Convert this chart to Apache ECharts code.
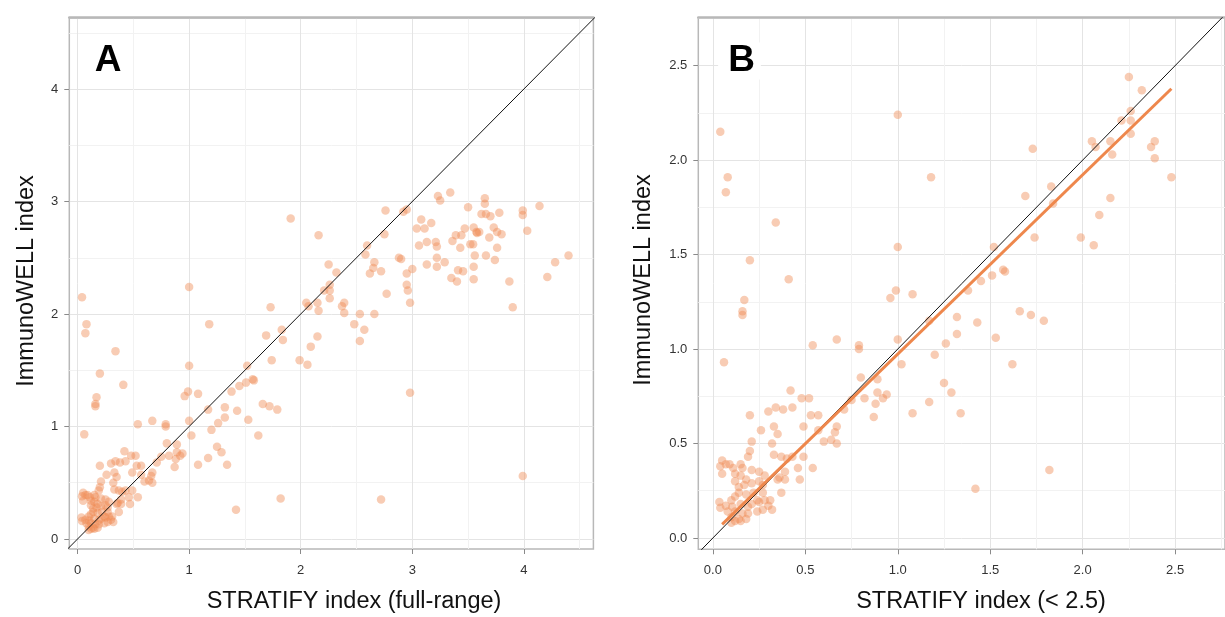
<!DOCTYPE html>
<html>
<head>
<meta charset="utf-8">
<script src="https://cdn.jsdelivr.net/npm/echarts@6/dist/echarts.min.js"></script>
<style>
html,body{margin:0;padding:0;background:#ffffff;}
#chart{width:1225px;height:617px;}
</style>
</head>
<body>
<div id="chart"></div>
<script>
// STRATIFY index (x) and ImmunoWELL index (y) for each sample
const stratify = [
  0.04,1.00,0.08,0.07,1.18,0.34,1.00,0.20,0.41,0.17,0.16,0.16,0.99,0.96,1.08,0.06,0.54,0.67,0.79,0.79,
  1.00,1.02,1.17,1.32,1.43,1.32,1.26,1.20,1.45,1.38,1.51,1.52,1.25,1.29,0.89,0.80,0.89,0.94,0.92,0.82,
  0.42,0.48,0.52,1.17,1.57,1.58,1.66,1.53,1.62,0.88,0.87,1.08,1.34,2.25,2.32,2.26,2.21,2.26,2.26,2.05,
  2.07,2.15,2.16,2.39,2.37,2.39,2.48,1.73,1.83,1.69,1.84,2.15,2.09,1.74,1.99,2.06,1.72,1.79,1.82,1.42,
  0.75,0.71,0.38,0.43,0.53,0.57,0.67,0.66,0.67,0.60,0.64,0.49,0.57,0.35,0.37,0.40,0.43,0.49,0.46,0.54,
  0.39,0.47,0.36,0.39,0.37,0.20,0.30,0.34,0.26,0.33,0.21,0.32,0.20,0.19,0.33,0.05,0.07,0.05,0.04,0.11,
  0.15,0.16,0.21,0.12,0.15,0.18,0.25,0.28,0.35,0.12,0.14,0.17,0.21,0.25,0.27,0.14,0.12,0.18,0.22,0.27,
  0.24,0.035,0.07,0.10,0.105,0.15,0.19,0.21,0.25,0.28,0.31,0.30,0.32,0.27,0.04,0.08,0.12,0.16,0.19,0.24,
  0.10,0.14,0.18,0.12,0.15,0.10,0.09,
  1.91,2.16,3.23,3.25,3.34,3.65,3.65,3.50,4.14,3.99,3.99,3.62,3.66,3.70,3.78,2.76,2.92,2.95,3.08,3.17,
  3.04,3.11,2.75,3.47,3.55,3.575,3.60,3.58,3.73,3.76,3.80,4.03,3.39,3.44,3.36,3.69,3.52,3.545,3.06,3.13,
  3.21,3.22,3.43,3.76,2.58,2.595,2.88,2.90,3.22,3.29,3.56,3.66,3.74,4.40,4.28,2.66,2.65,2.62,2.72,3.13,
  3.22,3.55,3.41,3.455,3.00,2.95,3.55,3.35,3.40,3.87,4.21,2.95,2.96,2.77,2.98,3.90,2.53,2.66,2.57,2.53,
  2.98,2.72,3.99
];
const immunowell = [
  2.15,2.24,1.91,1.83,1.91,1.67,1.54,1.47,1.37,1.26,1.20,1.18,1.31,1.27,1.29,0.93,1.02,1.05,1.02,1.00,
  1.05,0.92,1.15,1.17,1.14,1.08,1.03,0.97,1.36,1.31,1.39,1.54,0.82,0.77,0.84,0.85,0.77,0.76,0.74,0.74,
  0.78,0.74,0.74,0.72,1.42,1.41,1.20,1.06,0.92,0.71,0.64,0.66,0.66,2.44,2.37,2.26,2.21,2.21,2.14,2.10,
  2.07,2.10,2.03,2.10,2.07,2.01,1.91,2.06,1.86,1.81,1.77,1.80,1.71,1.59,1.59,1.55,1.18,1.15,0.36,0.26,
  0.73,0.68,0.68,0.69,0.65,0.65,0.59,0.56,0.50,0.51,0.52,0.59,0.57,0.55,0.43,0.42,0.43,0.43,0.37,0.37,
  0.35,0.31,0.32,0.31,0.24,0.65,0.67,0.69,0.57,0.59,0.51,0.50,0.46,0.43,0.44,0.41,0.39,0.34,0.38,0.37,
  0.39,0.37,0.36,0.34,0.33,0.31,0.35,0.33,0.31,0.30,0.27,0.28,0.29,0.30,0.28,0.24,0.22,0.23,0.24,0.24,
  0.20,0.19,0.17,0.20,0.165,0.18,0.165,0.18,0.19,0.20,0.20,0.17,0.15,0.15,0.16,0.14,0.14,0.13,0.13,0.14,
  0.11,0.10,0.10,0.09,0.09,0.08,0.39,
  2.85,2.70,3.05,3.01,3.08,3.03,2.98,2.95,2.96,2.92,2.88,2.89,2.89,2.87,2.90,2.92,2.91,2.93,2.84,2.81,
  2.76,2.76,2.71,2.76,2.77,2.73,2.73,2.72,2.77,2.73,2.71,2.74,2.70,2.70,2.65,2.68,2.62,2.62,2.61,2.64,
  2.64,2.60,2.59,2.59,2.53,2.61,2.50,2.49,2.50,2.46,2.52,2.52,2.48,2.52,2.46,2.46,2.41,2.36,2.38,2.44,
  2.42,2.42,2.39,2.38,2.40,2.36,2.31,2.32,2.29,2.29,2.33,2.26,2.21,2.18,2.10,2.06,2.00,2.00,1.86,1.76,
  1.30,0.35,0.56
];
// fitted regression line of panel B (end points)
const fitLine = [[0.05, 0.072], [2.48, 2.378]];
// identity (y = x) reference line ends
const identityEnds = [-1, 5];
// panel B shows samples below this value
const subsetLimit = 2.5;

// axis ticks
const ticksA = [0, 1, 2, 3, 4];
const minorA = [0.5, 1.5, 2.5, 3.5, 4.5];
const ticksB = [0, 0.5, 1, 1.5, 2, 2.5];
const minorB = [0.25, 0.75, 1.25, 1.75, 2.25, 2.75];
const xRangeA = [-0.074, 4.623];
const yRangeA = [-0.089, 4.634];
const xRangeB = [-0.079, 2.77];
const yRangeB = [-0.060, 2.754];

const FONT = '"Liberation Sans", Arial, Helvetica, sans-serif';
const pointsA = stratify.map((x, i) => [x, immunowell[i]]);
const pointsB = pointsA.filter(p => p[0] < subsetLimit && p[1] < subsetLimit);
const identity = identityEnds.map(v => [v, v]);

function mainAxis(gridIndex, range, ticks, fmt, pos, margin) {
  return {
    type: 'value', gridIndex, min: range[0], max: range[1], position: pos,
    axisLine: { show: false, onZero: false },
    axisTick: { show: true, customValues: ticks, length: 5, lineStyle: { color: '#8a8a8a', width: 1 } },
    axisLabel: { customValues: ticks, formatter: fmt, margin: margin, color: '#333', fontSize: 13, fontFamily: FONT },
    splitLine: { show: true, lineStyle: { color: '#e4e4e4', width: 1 } }
  };
}
function minorAxis(gridIndex, range, minor, pos, lineShow) {
  return {
    type: 'value', gridIndex, min: range[0], max: range[1], position: pos,
    axisLine: { show: lineShow, onZero: false, lineStyle: { color: '#b8b8b8', width: 2.5 } },
    axisTick: { show: false, customValues: minor },
    axisLabel: { show: false, customValues: minor },
    splitLine: { show: true, lineStyle: { color: '#f2f2f2', width: 1 } }
  };
}
const fmtA = v => String(Math.round(v));
const fmtB = v => v.toFixed(1);
const pointColor = 'rgba(240,140,85,0.55)';

const chart = echarts.init(document.getElementById('chart'), null, { renderer: 'canvas' });
chart.setOption({
  animation: false,
  backgroundColor: '#ffffff',
  grid: [
    { left: 69.3, top: 17.7, width: 524.1, height: 531.3, show: true, borderColor: '#b8b8b8', borderWidth: 1.5 },
    { left: 698.3, top: 17.7, width: 541, height: 531.6, show: true, borderColor: '#b8b8b8', borderWidth: 1.5 }
  ],
  xAxis: [
    mainAxis(0, xRangeA, ticksA, fmtA, 'bottom', 15),
    minorAxis(0, xRangeA, minorA, 'top', true),
    mainAxis(1, xRangeB, ticksB, fmtB, 'bottom', 15),
    minorAxis(1, xRangeB, minorB, 'top', true)
  ],
  yAxis: [
    mainAxis(0, yRangeA, ticksA, fmtA, 'left', 11),
    minorAxis(0, yRangeA, minorA, 'right', false),
    mainAxis(1, yRangeB, ticksB, fmtB, 'left', 11),
    minorAxis(1, yRangeB, minorB, 'right', false)
  ],
  series: [
    { type: 'scatter', xAxisIndex: 0, yAxisIndex: 0, data: pointsA, symbolSize: 8.5, silent: true,
      itemStyle: { color: pointColor }, z: 2 },
    { type: 'line', xAxisIndex: 0, yAxisIndex: 0, data: identity, symbol: 'none', silent: true,
      lineStyle: { color: '#111', width: 1 }, z: 3 },
    { type: 'scatter', xAxisIndex: 2, yAxisIndex: 2, data: pointsB, symbolSize: 8.5, silent: true,
      itemStyle: { color: pointColor }, z: 2 },
    { type: 'line', xAxisIndex: 2, yAxisIndex: 2, data: identity, symbol: 'none', silent: true,
      lineStyle: { color: '#111', width: 1 }, z: 3 },
    { type: 'line', xAxisIndex: 2, yAxisIndex: 2, data: fitLine, symbol: 'none', silent: true,
      lineStyle: { color: '#ee874c', width: 3 }, z: 4 }
  ],
  graphic: [
    { type: 'text', x: 108, y: 61, style: { text: 'A', font: '900 37px ' + FONT, fill: '#000', align: 'center', verticalAlign: 'middle' }, z: 10 },
    { type: 'text', x: 739.5, y: 61, style: { text: 'B', font: '900 37px ' + FONT, fill: '#000', align: 'center', verticalAlign: 'middle',
      backgroundColor: '#ffffff', padding: [0, 6, 0, 10] }, z: 10 },
    { type: 'text', x: 354, y: 602, style: { text: 'STRATIFY index (full-range)', font: '23.5px ' + FONT, fill: '#111', align: 'center', verticalAlign: 'middle' } },
    { type: 'text', x: 981, y: 602, style: { text: 'STRATIFY index (< 2.5)', font: '23.5px ' + FONT, fill: '#111', align: 'center', verticalAlign: 'middle' } },
    { type: 'text', x: 27, y: 281, rotation: Math.PI / 2, style: { text: 'ImmunoWELL index', font: '23.5px ' + FONT, fill: '#111', align: 'center', verticalAlign: 'middle' } },
    { type: 'text', x: 644, y: 280, rotation: Math.PI / 2, style: { text: 'ImmunoWELL index', font: '23.5px ' + FONT, fill: '#111', align: 'center', verticalAlign: 'middle' } }
  ]
});
</script>
</body>
</html>
